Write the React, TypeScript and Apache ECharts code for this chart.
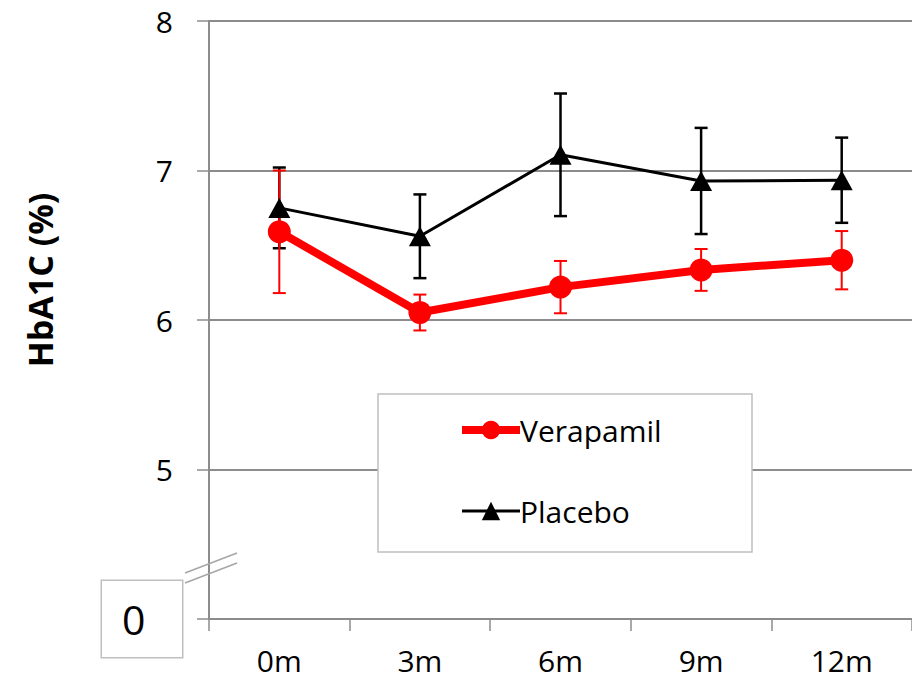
import React, { useEffect, useRef } from "react";
import * as echarts from "echarts";

const categories = ["0m", "3m", "6m", "9m", "12m"];
const verapamil = [6.59, 6.05, 6.22, 6.335, 6.4];
const verapamilErr = [0.41, 0.12, 0.175, 0.14, 0.195];
const placebo = [6.75, 6.56, 7.105, 6.93, 6.935];
const placeboErr = [0.27, 0.28, 0.41, 0.355, 0.285];
const yMin = 4;
const yMax = 8;
const yInterval = 1;
const brokenAxisLabel = "0";
const yName = "HbA1C (%)";

const FONT = "Open Sans";
const GRAY = "#8c8c8c";

function errorSeries(name: string, vals: number[], errs: number[], color: string, lw: number, z: number) {
  return {
    name,
    type: "custom",
    z,
    silent: true,
    data: vals.map((v, i) => [i, v - errs[i], v + errs[i]]),
    renderItem: (params: any, api: any) => {
      const x = api.value(0);
      const lo = api.coord([x, api.value(1)]);
      const hi = api.coord([x, api.value(2)]);
      const w = 6.5;
      const style = { stroke: color, lineWidth: lw };
      return {
        type: "group",
        children: [
          { type: "line", shape: { x1: lo[0], y1: lo[1], x2: hi[0], y2: hi[1] }, style },
          { type: "line", shape: { x1: lo[0] - w, y1: lo[1], x2: lo[0] + w, y2: lo[1] }, style },
          { type: "line", shape: { x1: hi[0] - w, y1: hi[1], x2: hi[0] + w, y2: hi[1] }, style },
        ],
      };
    },
  };
}

export default function App() {
  const ref = useRef<HTMLDivElement>(null);
  useEffect(() => {
    document.body.style.margin = "0";
    const chart = echarts.init(ref.current!, null, { renderer: "svg" });
    chart.setOption({
      animation: false,
      backgroundColor: "#fff",
      grid: { left: 209, top: 21, height: 598, width: 712.5 },
      xAxis: {
        type: "category",
        data: categories,
        boundaryGap: true,
        axisLine: { lineStyle: { color: GRAY, width: 2 } },
        axisTick: { show: true, length: 12, lineStyle: { color: GRAY, width: 1.5 } },
        axisLabel: { color: "#000", fontSize: 30, fontFamily: FONT, margin: 26 },
        splitLine: { show: false },
      },
      yAxis: {
        type: "value",
        min: yMin,
        max: yMax,
        interval: yInterval,
        axisLine: { show: true, lineStyle: { color: GRAY, width: 2 } },
        axisTick: { show: true, length: 12, lineStyle: { color: GRAY, width: 1.5 } },
        splitLine: { show: true, lineStyle: { color: GRAY, width: 2 } },
        axisLabel: {
          margin: 27,
          formatter: (v: number) => (v === yMin ? `{z|${brokenAxisLabel}}` : `{n|${v}}`),
          rich: {
            n: { color: "#000", fontSize: 30, fontFamily: FONT, padding: [0, 9, 0, 0] },
            z: {
              color: "#000",
              fontSize: 41,
              fontFamily: FONT,
              width: 60,
              height: 76,
              lineHeight: 76,
              align: "left",
              padding: [0, 0, 0, 20],
              backgroundColor: "#fff",
              borderColor: "#bfbfbf",
              borderWidth: 1.5,
            },
          },
        },
      },
      legend: {
        orient: "vertical",
        left: 458,
        top: 415,
        padding: 0,
        itemWidth: 58,
        itemHeight: 23,
        itemGap: 51,
        z: 20,
        data: [
          { name: "Verapamil", lineStyle: { width: 8, color: "#ff0000" } },
          { name: "Placebo", lineStyle: { width: 3, color: "#000" } },
        ],
        textStyle: { color: "#000", fontSize: 30, fontFamily: FONT, lineHeight: 20, padding: [0, 0, 0, -5] },
      },
      graphic: [
        {
          type: "rect",
          z: 10,
          shape: { x: 378, y: 394, width: 374, height: 158 },
          style: { fill: "#fff", stroke: "#bfbfbf", lineWidth: 1.5 },
        },
        {
          type: "line",
          z: 10,
          shape: { x1: 185, y1: 573, x2: 237, y2: 553 },
          style: { stroke: "#a6a6a6", lineWidth: 1.5 },
        },
        {
          type: "line",
          z: 10,
          shape: { x1: 185, y1: 583, x2: 237, y2: 563 },
          style: { stroke: "#a6a6a6", lineWidth: 1.5 },
        },
        {
          type: "text",
          z: 10,
          x: 40,
          y: 280,
          rotation: Math.PI / 2,
          style: {
            text: yName,
            fontSize: 34,
            fontWeight: "bold",
            fontFamily: FONT,
            fill: "#000",
            align: "center",
            verticalAlign: "middle",
          },
        },
      ],
      series: [
        errorSeries("Placebo SE", placebo, placeboErr, "#000", 2.5, 1),
        errorSeries("Verapamil SE", verapamil, verapamilErr, "#ff0000", 2, 1),
        {
          name: "Placebo",
          type: "line",
          data: placebo,
          z: 3,
          symbol: "triangle",
          symbolSize: [22, 20],
          lineStyle: { color: "#000", width: 3 },
          itemStyle: { color: "#000" },
        },
        {
          name: "Verapamil",
          type: "line",
          data: verapamil,
          z: 4,
          symbol: "circle",
          symbolSize: 23,
          lineStyle: { color: "#ff0000", width: 8 },
          itemStyle: { color: "#ff0000" },
        },
      ],
    });
    return () => chart.dispose();
  }, []);
  return <div ref={ref} style={{ width: 912, height: 683, position: "absolute", left: 0, top: 0 }} />;
}
